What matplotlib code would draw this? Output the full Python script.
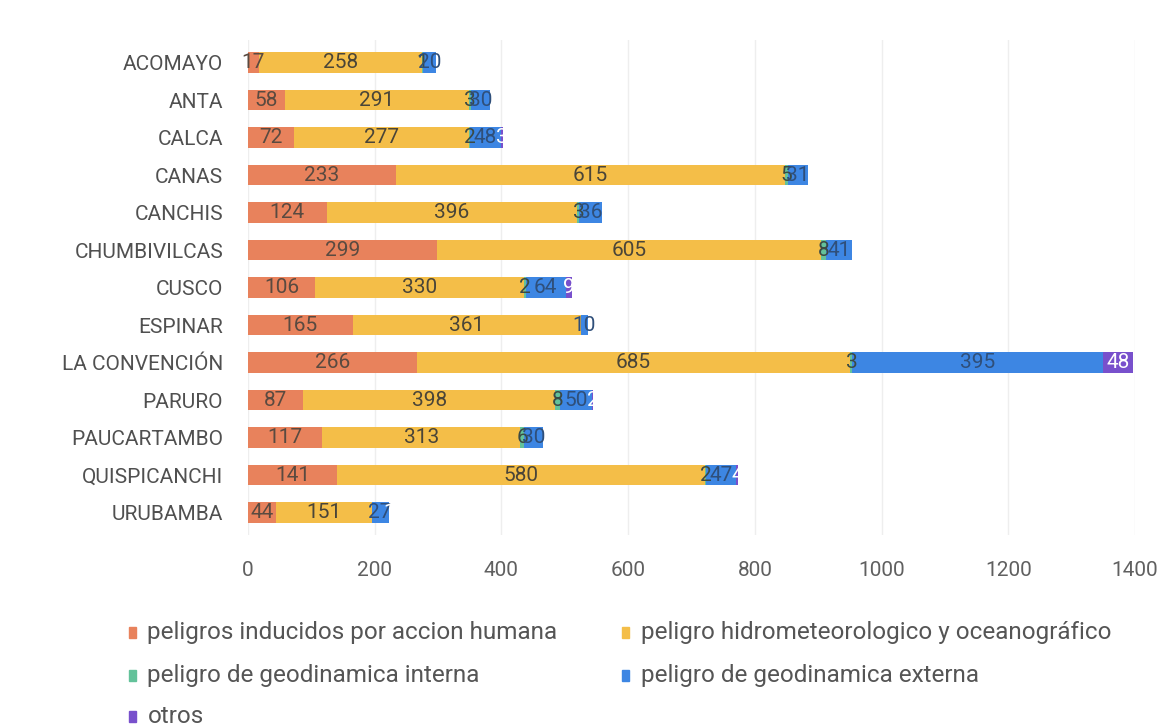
import matplotlib
matplotlib.use("Agg")
import matplotlib.pyplot as plt
from matplotlib.patches import Rectangle
import numpy as np

plt.rcParams['font.family'] = ['Roboto', 'DejaVu Sans']

#data
provincias = ['ACOMAYO', 'ANTA', 'CALCA', 'CANAS', 'CANCHIS', 'CHUMBIVILCAS', 'CUSCO',
              'ESPINAR', 'LA CONVENCIÓN', 'PARURO', 'PAUCARTAMBO', 'QUISPICANCHI', 'URUBAMBA']
humana = [17, 58, 72, 233, 124, 299, 106, 165, 266, 87, 117, 141, 44]
hidro = [258, 291, 277, 615, 396, 605, 330, 361, 685, 398, 313, 580, 151]
interna = [1, 3, 2, 5, 3, 8, 2, 0, 3, 8, 6, 2, 0]
externa = [20, 30, 48, 31, 36, 41, 64, 10, 395, 50, 30, 47, 27]
otros = [0, 0, 3, 0, 0, 0, 9, 0, 48, 2, 0, 4, 1]

series = [
    ('peligros inducidos por accion humana', humana, '#E8825C'),
    ('peligro hidrometeorologico y oceanográfico', hidro, '#F4BE48'),
    ('peligro de geodinamica interna', interna, '#63C29A'),
    ('peligro de geodinamica externa', externa, '#3D86E3'),
    ('otros', otros, '#7850CC'),
]
label_colors = ['#5a4a40', '#4a4538', '#3b4a44', '#2f4f7a', '#ffffff']

fig = plt.figure(figsize=(11.7, 7.28), dpi=100)
ax = fig.add_axes([0.212, 0.265, 0.758, 0.68])

y = np.arange(len(provincias))
left = np.zeros(len(provincias))
for (name, vals, col), lc in zip(series, label_colors):
    vals = np.array(vals, dtype=float)
    ax.barh(y, vals, left=left, height=0.55, color=col, zorder=2)
    for yi, l, v in zip(y, left, vals):
        if v > 0:
            ax.text(l + v / 2, yi, str(int(v)), ha='center', va='center',
                    fontsize=15, color=lc, zorder=3)
    left += vals

ax.set_xlim(0, 1400)
ax.set_ylim(len(provincias) - 0.4, -0.6)
ax.set_yticks(y)
ax.set_yticklabels(provincias, fontsize=15, color='#505050')
ax.set_xticks(range(0, 1401, 200))
ax.set_xticklabels([str(t) for t in range(0, 1401, 200)], fontsize=15, color='#606060')
ax.tick_params(length=0)
ax.tick_params(axis='y', pad=18)
ax.tick_params(axis='x', pad=19)
ax.grid(axis='x', color='#eeeeee', linewidth=1, zorder=0)
for s in ax.spines.values():
    s.set_visible(False)

#legend drawn by hand, two columns
pos = [(0.11, 0.131), (0.532, 0.131), (0.11, 0.072), (0.532, 0.072), (0.11, 0.016)]
for (name, vals, col), (px, py) in zip(series, pos):
    fig.patches.append(Rectangle((px, py - 0.008), 0.006, 0.016, transform=fig.transFigure,
                                 color=col, figure=fig))
    fig.text(px + 0.016, py, name, fontsize=17.5, color='#555555', va='center')

fig.savefig('out.png', dpi=100, facecolor='white')
